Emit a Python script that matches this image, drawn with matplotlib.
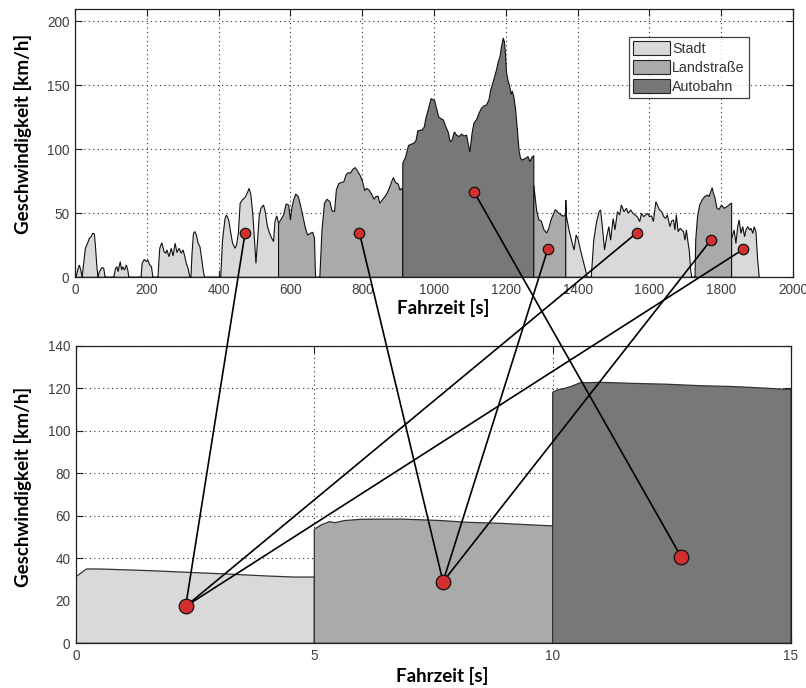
import numpy as np
import matplotlib
matplotlib.use("Agg")
import matplotlib.pyplot as plt
from matplotlib.patches import Patch, ConnectionPatch
from matplotlib.lines import Line2D

# ---------------------------------------------------------------- data
# Measured trip: time [s] and speed [km/h]; a repeated time marks a
# change of road type (value before / value after the change).
trip_t = [0, 3, 7.5, 12, 16, 20, 23, 29, 35, 40, 45, 49, 54, 57, 61, 64, 68, 75, 80, 84,
          108, 113, 117, 120, 126, 130, 133, 138, 143, 147, 150, 184, 187, 193, 199, 203,
          208, 213, 217, 231, 236, 242, 248, 253, 256, 262, 268, 273, 279, 284, 290, 296,
          301, 306, 310, 315, 320, 323, 326, 330, 334, 338, 343, 348, 352, 357, 361, 406,
          411, 418, 422, 428, 434, 439, 446, 450, 455, 460, 466, 474, 480, 485, 490, 495,
          500, 504, 508, 513, 518, 525, 530, 536, 542, 548, 553, 557, 562, 567,
          567, 573, 581, 588, 595, 600, 604, 609, 615, 622, 628, 634, 642, 648, 656, 662,
          667, 670, 682, 688, 695, 702, 710, 716, 723, 728, 735, 742, 749, 755, 761, 767,
          774, 781, 788, 795, 801, 807, 812, 819, 825, 833, 838, 844, 849, 856, 863, 870,
          877, 882, 887, 893, 900, 905, 910, 913,
          913, 921, 929, 937, 945, 950, 955, 962, 967, 973, 978, 985, 992, 996, 1002, 1008,
          1013, 1020, 1026, 1033, 1040, 1045, 1050, 1057, 1063, 1070, 1077, 1083, 1091,
          1094, 1100, 1106, 1111, 1119, 1125, 1132, 1139, 1146, 1153, 1158, 1162, 1169,
          1174, 1179, 1184, 1188, 1193, 1196, 1199, 1202, 1206, 1211, 1215, 1218, 1222,
          1227, 1232, 1237, 1241, 1246, 1255, 1262, 1267, 1274, 1278,
          1278, 1282, 1286, 1292, 1299, 1306, 1314, 1320, 1326, 1334, 1338, 1345, 1353,
          1360, 1367,
          1367, 1369, 1376, 1383, 1390, 1396, 1402, 1408, 1415, 1422, 1427, 1438, 1445,
          1453, 1460, 1464, 1469, 1475, 1481, 1487, 1492, 1499, 1504, 1511, 1517, 1522,
          1529, 1536, 1541, 1548, 1554, 1560, 1566, 1573, 1578, 1584, 1590, 1595, 1600,
          1606, 1611, 1618, 1622, 1628, 1634, 1640, 1645, 1650, 1657, 1662, 1667, 1671,
          1675, 1680, 1686, 1690, 1695, 1699, 1703, 1708, 1711, 1715, 1718, 1725,
          1725, 1727, 1729, 1734, 1740, 1748, 1754, 1762, 1766, 1771, 1775, 1778, 1783,
          1788, 1794, 1801, 1808, 1816, 1822, 1827, 1829,
          1829, 1836, 1841, 1846, 1850, 1855, 1860, 1865, 1869, 1874, 1879, 1883, 1888,
          1892, 1897, 1901, 1906]

trip_v = [0, 0, 5.7, 9.6, 5.7, 0, 8, 22.7, 26.6, 30.5, 31.8, 34.4, 33.9, 24, 8.3, 0, 4.4,
          7.6, 7, 0,
          0, 7, 8.3, 4.4, 12.2, 5.7, 8.3, 5.7, 9.6, 5.7, 0, 0, 10.9, 14, 12.2, 13.5,
          9.6, 8.3, 0, 0, 22.7, 27, 20, 18.8, 21.4, 16.1, 22.7, 16.7, 26.6, 19.3, 22.7, 18.8,
          21.4, 16.1, 10.9, 7, 0, 0, 18.8, 34.4, 35.7, 33, 26.6, 24, 16.1, 5.7, 0, 0,
          29.2, 46, 48.7, 44.8, 34.4, 26.6, 22.7, 25.3, 34.4, 57.8, 60.4, 62.5, 66, 69.5,
          64.3, 50, 29.2, 10.9, 26.6, 47.4, 54, 56.5, 51.3, 39.6, 34.4, 30.5, 27.9, 43.5,
          48, 42.2,
          42.2, 44.8, 48.7, 57.3, 56.5, 44.8, 54, 60.4, 65.1, 63, 56.5, 48.7, 38.3, 33, 34.4,
          35.2, 30.5, 0, 0, 37, 57.8, 61, 59, 52, 51.3, 68.2, 73.4, 74, 74.7, 80, 81.8,
          81.3, 84.4, 85.7, 82.6, 79.2, 74.7, 67.7, 69.5, 68.2, 65.6, 61, 63, 63.5, 57.8,
          60.4, 63, 66, 70.8, 74.7, 78, 74, 73, 68.2, 69.5, 67,
          89, 94, 103, 104, 105, 107, 114.5, 115, 115, 117.6, 125, 132, 139.7, 139, 137.8,
          131, 125.4, 123.8, 123, 117.6, 113, 106, 107, 113.6, 111, 110, 112, 110.4, 111,
          106, 98, 112.4, 120.3, 123.4, 128, 132, 133.9, 134.6, 138.5, 146.3, 150, 156.7,
          162, 168.5, 172.4, 180, 187, 184, 175, 160, 154, 149, 143, 145.5, 141.5,
          132, 116, 99, 93, 91.6, 93, 94.3, 90.4, 94.3, 95,
          72, 62, 52, 45, 43.8, 37.3, 34.6, 38.5, 45, 50.3, 52.9, 50.8, 49,
          47.7, 49,
          60.4, 47.4, 37, 29, 21.3, 33, 29, 21.3, 13.5, 5.7, 0, 0, 29,
          43.5, 51.3, 52.6, 39.6, 21.3, 31.7, 39.6, 29, 46, 37, 51.3, 48.7, 56.5,
          51.3, 53.9, 50, 52.6, 50, 48.7, 47.4, 43.5, 50, 47.4, 48.7, 50, 47.4,
          48, 43.5, 59.1, 56.5, 52.6, 51.3, 47.4, 46, 48.7, 39.6, 44, 44.8, 37,
          48.7, 35.7, 38.3, 37, 35.7, 29, 37, 26.4, 21.3, 5.7, 0, 0,
          0, 0, 29, 47.4, 56.5, 60.9, 63, 64.3, 63, 67, 70, 66, 61.7,
          54, 53, 56.5, 53.9, 55.2, 56.5, 57.8, 57.8,
          30, 37, 26.4, 39.6, 44.8, 34.3, 39.6, 31.7, 37, 39.6, 37, 38.3, 34.3,
          39.6, 35, 15.6, 0]

# Road type of each trip section, in order, and the times where it changes
section_types = ["Stadt", "Landstraße", "Autobahn", "Landstraße", "Stadt", "Landstraße", "Stadt"]
section_changes = [567, 913, 1278, 1367, 1725, 1829]

# Representative 15 s cycle (5 s per road type)
cycle_stadt_t = [0, 0.22, 0.5, 1.56, 2.47, 3.3, 4.0, 4.58, 5]
cycle_stadt_v = [31.4, 35, 35, 34.2, 33.3, 32.5, 31.7, 31.2, 31.2]
cycle_land_t = [5, 5.14, 5.32, 5.43, 5.63, 5.98, 6.83, 7.66, 8.2, 8.9, 9.6, 10]
cycle_land_v = [53.7, 55.7, 57.3, 56.8, 57.8, 58.4, 58.5, 57.8, 57, 56.5, 55.7, 55.3]
cycle_auto_t = [10, 10.1, 10.24, 10.38, 10.6, 10.72, 11.0, 11.7, 12.4, 13.1, 13.8, 14.5, 14.85, 15]
cycle_auto_v = [118.2, 119.3, 120, 120.9, 122.9, 122.7, 122.9, 122.4, 122, 121.3, 120.9,
                120.1, 119.6, 119.6]

# Sample points on the trip and the cycle point each one belongs to
trip_mark_t = [474, 792, 1111, 1317, 1566, 1771, 1862]
trip_mark_v = [35, 35, 67, 22, 35, 29, 22]
trip_mark_type = ["Stadt", "Landstraße", "Autobahn", "Landstraße", "Stadt", "Landstraße", "Stadt"]
cycle_mark_type = ["Stadt", "Landstraße", "Autobahn"]
cycle_mark_t = [2.3, 7.7, 12.7]
cycle_mark_v = [17.4, 29, 40.5]

# ---------------------------------------------------------------- style
colors = {"Stadt": "#d9d9d9", "Landstraße": "#aaaaaa", "Autobahn": "#787878"}
label_font = ["Lato", "DejaVu Sans"]
plt.rcParams["font.family"] = ["Liberation Sans", "DejaVu Sans"]
tick_color = "#404040"
grid_kw = dict(color="#303030", linestyle=(0, (1, 3)), linewidth=0.8)
mark_color = "#d42f2f"

fig = plt.figure(figsize=(8.06, 6.88), dpi=100)
ax1 = fig.add_axes([75 / 806, 1 - 277.3 / 688, 718 / 806, 268 / 688])
ax2 = fig.add_axes([76 / 806, 1 - 643.3 / 688, 715 / 806, 297.3 / 688])


def style_axes(ax):
    ax.set_axisbelow(True)
    ax.grid(True, **grid_kw)
    ax.tick_params(direction="in", length=5, width=0.8, top=True, right=True,
                   labelsize=9.8, labelcolor=tick_color, color="#202020", pad=4)
    for sp in ax.spines.values():
        sp.set_linewidth(0.9)
        sp.set_color("#202020")


# ---------------------------------------------------------------- trip profile
t = np.asarray(trip_t, float)
v = np.asarray(trip_v, float)
split = [0] + [int(np.where(t == c)[0][-1]) for c in section_changes] + [len(t)]
for i, kind in enumerate(section_types):
    st = t[split[i]:split[i + 1]]
    sv = v[split[i]:split[i + 1]]
    ax1.fill(np.r_[st[0], st, st[-1]], np.r_[0, sv, 0], facecolor=colors[kind],
             edgecolor="#111111", linewidth=0.8, zorder=2)

ax1.set_xlim(0, 2000)
ax1.set_ylim(0, 209.4)
ax1.set_xticks(np.arange(0, 2001, 200))
ax1.set_yticks(np.arange(0, 201, 50))
style_axes(ax1)

legend_handles = [Patch(facecolor=colors[k], edgecolor="#222222", linewidth=0.8, label=k)
                  for k in ["Stadt", "Landstraße", "Autobahn"]]
leg = ax1.legend(handles=legend_handles, loc="upper right", bbox_to_anchor=(0.939, 0.896),
                 fontsize=10.3, frameon=True, fancybox=False, edgecolor="#111111",
                 handlelength=2.6, handleheight=1.1, handletextpad=0.15, labelspacing=0.28,
                 borderpad=0.3, borderaxespad=0.0)
leg.get_frame().set_linewidth(0.9)
for txt in leg.get_texts():
    txt.set_color("#333333")

# ---------------------------------------------------------------- cycle profile
for ct, cv, kind in [(cycle_stadt_t, cycle_stadt_v, "Stadt"),
                     (cycle_land_t, cycle_land_v, "Landstraße"),
                     (cycle_auto_t, cycle_auto_v, "Autobahn")]:
    ax2.fill(np.r_[ct[0], ct, ct[-1]], np.r_[0, cv, 0], facecolor=colors[kind],
             edgecolor="#333333", linewidth=0.9, zorder=2)

ax2.set_xlim(0, 15)
ax2.set_ylim(0, 140)
ax2.set_xticks([0, 5, 10, 15])
ax2.set_yticks(np.arange(0, 141, 20))
style_axes(ax2)

for ax in (ax1, ax2):
    ax.set_xlabel("Fahrzeit [s]", fontsize=13.5, fontweight="bold", family=label_font)
    ax.set_ylabel("Geschwindigkeit [km/h]", fontsize=13.5, fontweight="bold", family=label_font)
ax1.xaxis.set_label_coords(0.5125, -0.082)
ax2.xaxis.set_label_coords(0.5125, -0.080)
ax1.yaxis.set_label_coords(-0.060, 0.535)
ax2.yaxis.set_label_coords(-0.062, 0.525)

# ---------------------------------------------------------------- connections
for mt, mv, kind in zip(trip_mark_t, trip_mark_v, trip_mark_type):
    j = cycle_mark_type.index(kind)
    con = ConnectionPatch(xyA=(mt, mv), coordsA=ax1.transData,
                          xyB=(cycle_mark_t[j], cycle_mark_v[j]), coordsB=ax2.transData,
                          color="black", linewidth=1.2, zorder=5)
    fig.add_artist(con)

for mt, mv in zip(trip_mark_t, trip_mark_v):
    fig.add_artist(Line2D([mt], [mv], transform=ax1.transData, marker="o", markersize=7.5,
                          markerfacecolor=mark_color, markeredgecolor="#111111",
                          markeredgewidth=0.9, linestyle="none", zorder=6))
for ct_, cv_ in zip(cycle_mark_t, cycle_mark_v):
    fig.add_artist(Line2D([ct_], [cv_], transform=ax2.transData, marker="o", markersize=10.5,
                          markerfacecolor=mark_color, markeredgecolor="#111111",
                          markeredgewidth=0.9, linestyle="none", zorder=6))

fig.savefig("out.png", dpi=100)
